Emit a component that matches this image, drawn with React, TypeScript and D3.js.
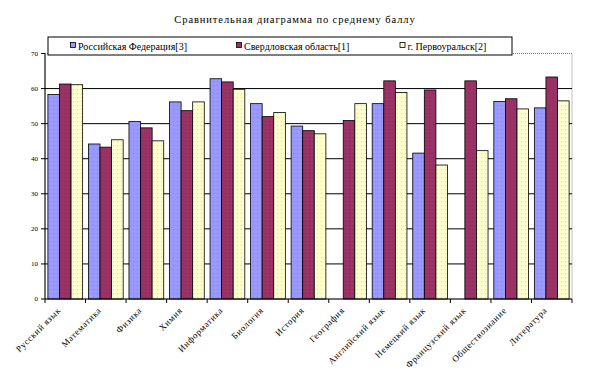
import React from 'react';
import * as d3 from 'd3';

const subjects = [
  'Русский язык',
  'Математика',
  'Физика',
  'Химия',
  'Информатика',
  'Биология',
  'История',
  'География',
  'Английский язык',
  'Немецкий язык',
  'Французский язык',
  'Обществознание',
  'Литература',
];

const seriesNames = ['Российская Федерация[3]', 'Свердловская область[1]', 'г. Первоуральск[2]'];
const seriesColors = ['#9999FF', '#993366', '#FFFFCC'];

// null = no data for that subject
const russia = [58.3, 44.2, 50.6, 56.2, 62.8, 55.7, 49.3, null, 55.7, 41.6, null, 56.3, 54.5];
const sverdlovsk = [61.3, 43.3, 48.8, 53.7, 61.9, 52.0, 48.0, 50.9, 62.2, 59.6, 62.2, 57.1, 63.3];
const pervouralsk = [61.1, 45.4, 45.1, 56.2, 59.8, 53.2, 47.1, 55.7, 58.9, 38.2, 42.3, 54.2, 56.5];

const yTicks = [0, 10, 20, 30, 40, 50, 60, 70];

const W = 591;
const H = 384;
const plot = {left: 45, right: 572, top: 53.5, bottom: 299};

export default function App() {
  const series = [russia, sverdlovsk, pervouralsk];

  const x = d3.scaleBand().domain(subjects).range([plot.left, plot.right]).paddingInner(0).paddingOuter(0);
  const inner = d3
    .scaleBand()
    .domain(seriesNames)
    .range([0, x.bandwidth()])
    .paddingInner(0)
    .paddingOuter(0.25); // excel gap width 150%
  const y = d3.scaleLinear().domain([0, 70]).range([plot.bottom, plot.top]);

  const serif = '"Liberation Serif", "Times New Roman", serif';

  return (
    <svg width={W} height={H} style={{position: 'absolute', left: 0, top: 0, background: '#fff'}}>
      <defs>
        {seriesColors.map((c, i) => (
          <pattern key={i} id={'dots' + i} width={4} height={4} patternUnits={'userSpaceOnUse'}>
            <rect width={4} height={4} fill={c} />
            <rect x={1} y={1} width={1} height={1} fill={d3.color(c)!.darker(0.8).toString()} opacity={0.6} />
          </pattern>
        ))}
      </defs>

      <text x={295} y={23} textAnchor={'middle'} fontFamily={serif} fontSize={10.5} letterSpacing={0.9} fill={'#000'}>
        Сравнительная диаграмма по среднему баллу
      </text>

      {/* plot area border, dotted grey */}
      <rect
        x={plot.left}
        y={plot.top}
        width={plot.right - plot.left}
        height={plot.bottom - plot.top}
        fill={'none'}
        stroke={'#808080'}
        strokeDasharray={'1,1'}
      />

      {/* gridlines */}
      {yTicks.slice(1, -1).map(t => (
        <line key={t} x1={plot.left} x2={plot.right} y1={y(t)} y2={y(t)} stroke={'#000'} strokeWidth={1} />
      ))}

      {/* bars */}
      {series.map((vals, si) =>
        vals.map((v, ci) =>
          v == null ? null : (
            <rect
              key={si + '-' + ci}
              x={x(subjects[ci])! + inner(seriesNames[si])!}
              y={y(v)}
              width={inner.bandwidth()}
              height={y(0) - y(v)}
              fill={`url(#dots${si})`}
              stroke={'#000'}
              strokeWidth={0.8}
            />
          ),
        ),
      )}

      {/* y axis */}
      <line x1={plot.left} x2={plot.left} y1={plot.top} y2={plot.bottom} stroke={'#000'} />
      {yTicks.map(t => (
        <g key={t}>
          <line x1={plot.left - 4} x2={plot.left} y1={y(t)} y2={y(t)} stroke={'#000'} />
          <text
            x={plot.left - 7}
            y={y(t)}
            dy={'0.35em'}
            textAnchor={'end'}
            fontFamily={serif}
            fontSize={7}
            fill={'#000'}>
            {t}
          </text>
        </g>
      ))}

      {/* x axis */}
      <line x1={plot.left} x2={plot.right} y1={plot.bottom} y2={plot.bottom} stroke={'#000'} />
      {subjects.map((s, i) => (
        <line
          key={'t' + i}
          x1={x(s)!}
          x2={x(s)!}
          y1={plot.bottom}
          y2={plot.bottom + 4}
          stroke={'#000'}
        />
      ))}
      <line x1={plot.right} x2={plot.right} y1={plot.bottom} y2={plot.bottom + 4} stroke={'#000'} />
      {subjects.map(s => {
        const cx = x(s)! + x.bandwidth() / 2 - 4;
        const cy = plot.bottom + 12;
        return (
          <text
            key={s}
            transform={`translate(${cx},${cy}) rotate(-45)`}
            textAnchor={'end'}
            fontFamily={serif}
            fontSize={9}
            letterSpacing={0.6}
            fill={'#000'}>
            {s}
          </text>
        );
      })}

      {/* legend */}
      <rect x={48} y={37} width={464} height={18} fill={'#fff'} stroke={'#000'} strokeWidth={1} />
      {seriesNames.map((n, i) => {
        const lx = [70.5, 236.5, 400][i];
        return (
          <g key={n}>
            <rect x={lx} y={42.5} width={5} height={5} fill={seriesColors[i]} stroke={'#000'} strokeWidth={0.8} />
            <text x={lx + 7.5} y={49.5} fontFamily={serif} fontSize={10} fill={'#000'}>
              {n}
            </text>
          </g>
        );
      })}
    </svg>
  );
}
